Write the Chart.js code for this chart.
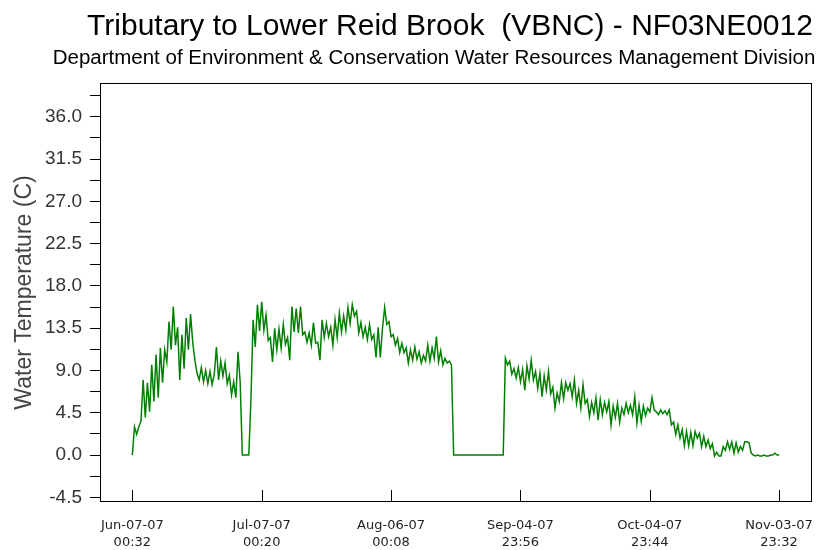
<!DOCTYPE html>
<html>
<head>
<meta charset="utf-8">
<title>Tributary to Lower Reid Brook (VBNC) - NF03NE0012</title>
<script src="https://cdn.jsdelivr.net/npm/chart.js"></script>
<style>
  html, body { margin: 0; padding: 0; background: #fff; }
</style>
</head>
<body>
<canvas id="tempChart" width="824" height="550"></canvas>
<script>
const titleText = 'Tributary to Lower Reid Brook  (VBNC) - NF03NE0012';
const subtitleText = 'Department of Environment & Conservation Water Resources Management Division';
const yLabel = 'Water Temperature (C)';

// logger readings, one every 12 hours from Jun-07-07 00:32
const stepDays = 0.5;
const temps = [
  0.0, 3.0, 2.2, 3.0, 3.6, 8.0, 4.0, 7.7, 4.6, 9.6,
  5.7, 10.7, 6.1, 11.4, 7.7, 11.2, 9.9, 14.2, 11.2, 15.8,
  11.7, 13.6, 8.0, 12.8, 9.2, 14.6, 11.2, 15.0, 12.0, 10.1,
  8.7, 8.0, 9.3, 7.8, 9.0, 7.6, 8.9, 7.5, 8.6, 11.5,
  8.0, 10.0, 8.4, 9.8, 7.6, 8.5, 6.4, 7.8, 6.1, 11.0,
  7.8, 0.0, 0.0, 0.0, 0.0, 5.9, 14.4, 11.5, 16.0, 13.2,
  16.3, 13.3, 14.9, 12.2, 12.5, 9.9, 13.5, 11.2, 13.4, 11.4,
  13.9, 11.8, 12.5, 10.1, 15.8, 13.1, 15.6, 13.0, 15.8, 12.8,
  13.1, 12.0, 13.0, 11.7, 14.1, 11.9, 12.0, 10.1, 14.4, 12.5,
  14.0, 12.6, 13.6, 11.7, 14.4, 12.5, 15.1, 13.1, 14.8, 13.3,
  15.7, 14.0, 16.0, 14.8, 15.3, 13.0, 14.1, 12.6, 13.6, 12.3,
  13.9, 12.3, 12.8, 10.4, 13.6, 10.4, 13.5, 15.7, 13.9, 14.2,
  12.6, 12.8, 11.7, 12.4, 10.9, 11.9, 10.9, 11.4, 9.8, 11.2,
  10.1, 11.5, 10.2, 11.0, 9.8, 10.6, 10.0, 11.7, 10.0, 11.4,
  10.3, 12.6, 9.9, 11.1, 9.6, 10.3, 9.8, 10.0, 9.6, 0.0,
  0.0, 0.0, 0.0, 0.0, 0.0, 0.0, 0.0, 0.0, 0.0, 0.0,
  0.0, 0.0, 0.0, 0.0, 0.0, 0.0, 0.0, 0.0, 0.0, 0.0,
  0.0, 0.0, 0.0, 10.3, 9.6, 10.0, 8.6, 9.2, 8.2, 9.3,
  7.8, 9.1, 6.9, 9.5, 8.1, 10.1, 8.0, 8.9, 7.1, 8.7,
  6.2, 8.4, 6.9, 8.9, 6.5, 7.2, 5.0, 6.6, 5.7, 7.7,
  6.0, 7.7, 6.9, 7.6, 6.2, 8.0, 5.5, 6.9, 5.0, 7.5,
  5.5, 5.9, 4.1, 5.6, 4.5, 6.1, 3.7, 5.9, 4.3, 5.6,
  4.6, 5.7, 3.2, 5.2, 4.0, 5.5, 3.5, 5.0, 4.3, 5.5,
  4.5, 5.3, 4.3, 6.2, 3.4, 5.3, 3.6, 5.2, 4.2, 5.0,
  4.6, 6.1, 4.8, 4.6, 4.3, 4.8, 4.4, 4.7, 4.3, 4.8,
  3.2, 3.5, 2.2, 3.2, 1.8, 2.7, 1.0, 2.5, 1.0, 2.4,
  1.0, 2.5, 1.8, 2.3, 0.9, 2.0, 0.9, 1.6, 0.7, 1.2,
  -0.1, 0.3, -0.1, -0.1, 0.9, 0.5, 1.4, 0.6, 1.4, 0.2,
  1.3, 0.3, 0.9, 0.5, 1.4, 1.4, 1.3, 0.2, 0.0, -0.1,
  0.0, -0.1, -0.1, 0.0, -0.1, -0.1, 0.0, 0.0, 0.2, 0.0,
  0.0
];

// x axis ticks fall every 30 days less 12 minutes
const tickDates = ['Jun-07-07', 'Jul-07-07', 'Aug-06-07', 'Sep-04-07', 'Oct-04-07', 'Nov-03-07'];
const tickTimes = ['00:32', '00:20', '00:08', '23:56', '23:44', '23:32'];
const tickEveryDays = 30 - 12 / 1440;

const yMajor = [-4.5, 0.0, 4.5, 9.0, 13.5, 18.0, 22.5, 27.0, 31.5, 36.0];

const points = temps.map((t, i) => ({ x: i * stepDays, y: t }));

// plot frame, inward x ticks and the two heading lines
const framePlugin = {
  id: 'frame',
  afterDraw(chart) {
    const { ctx, chartArea: a, scales } = chart;
    const x = scales.x;
    ctx.save();
    ctx.strokeStyle = '#000';
    ctx.lineWidth = 1;
    ctx.strokeRect(a.left + 0.5, a.top + 0.5, a.right - a.left - 1, a.bottom - a.top - 1);
    ctx.beginPath();
    x.ticks.forEach(t => {
      const px = Math.round(x.getPixelForValue(t.value)) + 0.5;
      ctx.moveTo(px, a.bottom);
      ctx.lineTo(px, a.bottom - 12);
    });
    ctx.stroke();

    ctx.fillStyle = '#000';
    ctx.textAlign = 'center';
    ctx.textBaseline = 'alphabetic';
    ctx.font = '30px "Liberation Sans", Arial, sans-serif';
    ctx.fillText(titleText, 450, 35);
    ctx.font = '20.5px "Liberation Sans", Arial, sans-serif';
    ctx.fillText(subtitleText, 434, 64);
    ctx.restore();
  }
};

const ctx = document.getElementById('tempChart').getContext('2d');

new Chart(ctx, {
  type: 'line',
  data: {
    datasets: [{
      data: points,
      borderColor: '#008000',
      borderWidth: 1.5,
      pointRadius: 0,
      tension: 0,
      fill: false
    }]
  },
  options: {
    responsive: false,
    animation: false,
    layout: { padding: { top: 83, right: 12, left: 0, bottom: 0 } },
    plugins: {
      legend: { display: false },
      tooltip: { enabled: false }
    },
    scales: {
      x: {
        type: 'linear',
        min: -7.5,
        max: 157.6,
        afterBuildTicks: s => {
          s.ticks = tickDates.map((d, i) => ({ value: i * tickEveryDays }));
        },
        ticks: {
          autoSkip: false,
          maxRotation: 0,
          padding: 7,
          color: '#222',
          font: { family: 'DejaVu Sans', size: 13, lineHeight: 1.31 },
          callback: (v, i) => [tickDates[i], tickTimes[i]]
        },
        grid: { display: false },
        border: { display: false },
        afterFit: s => { s.height = 48; }
      },
      y: {
        min: -5.0,
        max: 39.6,
        afterBuildTicks: s => {
          const vals = [];
          yMajor.forEach(v => { vals.push(v); vals.push(v + 2.25); });
          s.ticks = vals.map(v => ({ value: v }));
        },
        ticks: {
          autoSkip: false,
          padding: 8,
          color: '#333',
          font: { family: 'Liberation Sans', size: 19 },
          callback: v => yMajor.some(m => Math.abs(m - v) < 1e-6) ? v.toFixed(1) : ''
        },
        grid: { drawOnChartArea: false, tickLength: 10, color: '#000' },
        border: { display: false },
        title: {
          display: true,
          text: yLabel,
          color: '#444',
          font: { family: 'Liberation Sans', size: 23 },
          padding: { top: 11, bottom: 0 }
        },
        afterFit: s => { s.width = 100; }
      }
    }
  },
  plugins: [framePlugin]
});
</script>
</body>
</html>
